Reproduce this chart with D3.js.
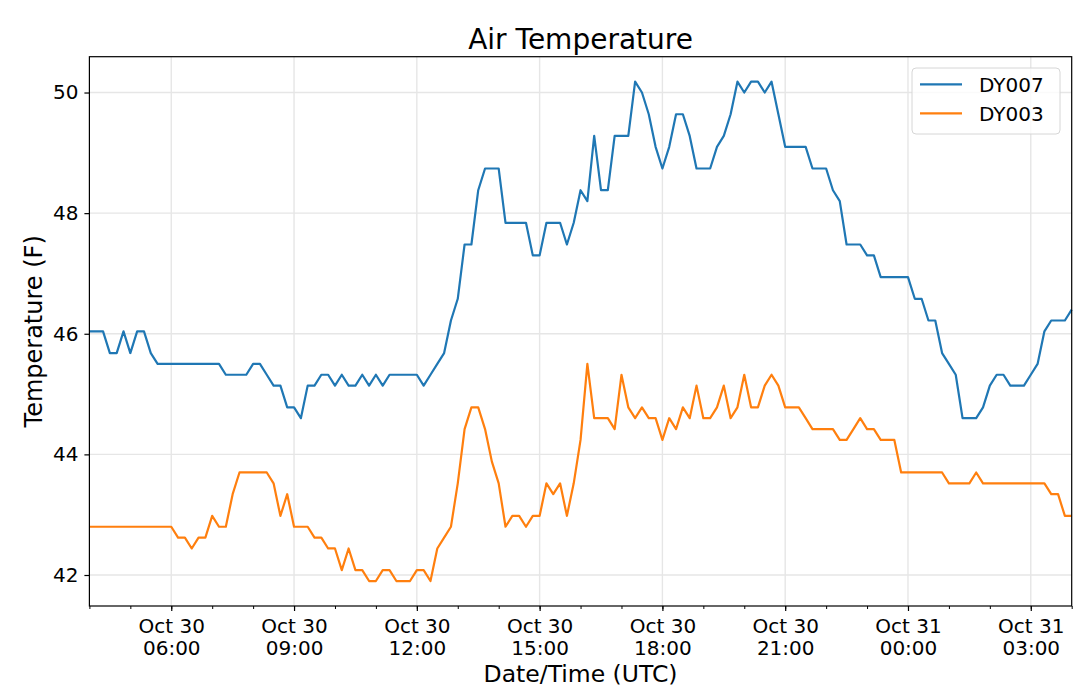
<!DOCTYPE html>
<html>
<head>
<meta charset="utf-8">
<script src="https://cdnjs.cloudflare.com/ajax/libs/d3/7.8.5/d3.min.js"></script>
<style>
  html, body { margin: 0; padding: 0; background: #fff; overflow: hidden; }
  svg { display: block; }
  text { font-family: "DejaVu Sans", sans-serif; fill: #000; }
</style>
</head>
<body>
<svg></svg>
<script>
// readings every 10 minutes, Oct 30 04:00 UTC -> Oct 31 04:00 UTC
const startTime = '2019-10-30T04:00:00Z'
const stepMinutes = 10

const seriesNames = ['DY007', 'DY003']
const seriesColors = ['#1f77b4', '#ff7f0e']

const dy007 = [
  46.04, 46.04, 46.04, 45.68, 45.68, 46.04, 45.68, 46.04, 46.04, 45.68,
  45.5, 45.5, 45.5, 45.5, 45.5, 45.5, 45.5, 45.5, 45.5, 45.5,
  45.32, 45.32, 45.32, 45.32, 45.5, 45.5, 45.32, 45.14, 45.14, 44.78,
  44.78, 44.6, 45.14, 45.14, 45.32, 45.32, 45.14, 45.32, 45.14, 45.14,
  45.32, 45.14, 45.32, 45.14, 45.32, 45.32, 45.32, 45.32, 45.32, 45.14,
  45.32, 45.5, 45.68, 46.22, 46.58, 47.48, 47.48, 48.38, 48.74, 48.74,
  48.74, 47.84, 47.84, 47.84, 47.84, 47.3, 47.3, 47.84, 47.84, 47.84,
  47.48, 47.84, 48.38, 48.2, 49.28, 48.38, 48.38, 49.28, 49.28, 49.28,
  50.18, 50.0, 49.64, 49.1, 48.74, 49.1, 49.64, 49.64, 49.28, 48.74,
  48.74, 48.74, 49.1, 49.28, 49.64, 50.18, 50.0, 50.18, 50.18, 50.0,
  50.18, 49.64, 49.1, 49.1, 49.1, 49.1, 48.74, 48.74, 48.74, 48.38,
  48.2, 47.48, 47.48, 47.48, 47.3, 47.3, 46.94, 46.94, 46.94, 46.94,
  46.94, 46.58, 46.58, 46.22, 46.22, 45.68, 45.5, 45.32, 44.6, 44.6,
  44.6, 44.78, 45.14, 45.32, 45.32, 45.14, 45.14, 45.14, 45.32, 45.5,
  46.04, 46.22, 46.22, 46.22, 46.4
]

const dy003 = [
  42.8, 42.8, 42.8, 42.8, 42.8, 42.8, 42.8, 42.8, 42.8, 42.8,
  42.8, 42.8, 42.8, 42.62, 42.62, 42.44, 42.62, 42.62, 42.98, 42.8,
  42.8, 43.34, 43.7, 43.7, 43.7, 43.7, 43.7, 43.52, 42.98, 43.34,
  42.8, 42.8, 42.8, 42.62, 42.62, 42.44, 42.44, 42.08, 42.44, 42.08,
  42.08, 41.9, 41.9, 42.08, 42.08, 41.9, 41.9, 41.9, 42.08, 42.08,
  41.9, 42.44, 42.62, 42.8, 43.52, 44.42, 44.78, 44.78, 44.42, 43.88,
  43.52, 42.8, 42.98, 42.98, 42.8, 42.98, 42.98, 43.52, 43.34, 43.52,
  42.98, 43.52, 44.24, 45.5, 44.6, 44.6, 44.6, 44.42, 45.32, 44.78,
  44.6, 44.78, 44.6, 44.6, 44.24, 44.6, 44.42, 44.78, 44.6, 45.14,
  44.6, 44.6, 44.78, 45.14, 44.6, 44.78, 45.32, 44.78, 44.78, 45.14,
  45.32, 45.14, 44.78, 44.78, 44.78, 44.6, 44.42, 44.42, 44.42, 44.42,
  44.24, 44.24, 44.42, 44.6, 44.42, 44.42, 44.24, 44.24, 44.24, 43.7,
  43.7, 43.7, 43.7, 43.7, 43.7, 43.7, 43.52, 43.52, 43.52, 43.52,
  43.7, 43.52, 43.52, 43.52, 43.52, 43.52, 43.52, 43.52, 43.52, 43.52,
  43.52, 43.34, 43.34, 42.98, 42.98
]

const yTicks = [42, 44, 46, 48, 50]
const xTicks = [
  '2019-10-30T06:00:00Z', '2019-10-30T09:00:00Z', '2019-10-30T12:00:00Z',
  '2019-10-30T15:00:00Z', '2019-10-30T18:00:00Z', '2019-10-30T21:00:00Z',
  '2019-10-31T00:00:00Z', '2019-10-31T03:00:00Z'
]

const width = 1080
const height = 700
const margin = { top: 56.7, right: 8.3, bottom: 94, left: 89.4 }
const innerWidth = width - margin.left - margin.right
const innerHeight = height - margin.top - margin.bottom

const svg = d3.select('svg').attr('width', width).attr('height', height)

const start = new Date(startTime)
const times = dy007.map((d, i) => d3.utcMinute.offset(start, i * stepMinutes))
const series = [dy007, dy003].map((vals, k) => ({
  name: seriesNames[k],
  color: seriesColors[k],
  values: vals.map((v, i) => ({ t: times[i], v: v }))
}))

const xScale = d3.scaleUtc()
  .domain(d3.extent(times))
  .range([0, innerWidth])

// matplotlib style 5% padding
const allVals = dy007.concat(dy003)
const [vMin, vMax] = d3.extent(allVals)
const pad = (vMax - vMin) * 0.05
const yScale = d3.scaleLinear()
  .domain([vMin - pad, vMax + pad])
  .range([innerHeight, 0])

const g = svg.append('g')
  .attr('transform', `translate(${margin.left},${margin.top})`)

const majorDates = xTicks.map(s => new Date(s))

// grid
g.append('g').selectAll('line')
  .data(yTicks)
  .enter().append('line')
    .attr('x1', 0).attr('x2', innerWidth)
    .attr('y1', d => yScale(d)).attr('y2', d => yScale(d))
    .attr('stroke', '#e6e6e6').attr('stroke-width', 1.4)
g.append('g').selectAll('line')
  .data(majorDates)
  .enter().append('line')
    .attr('x1', d => xScale(d)).attr('x2', d => xScale(d))
    .attr('y1', 0).attr('y2', innerHeight)
    .attr('stroke', '#e6e6e6').attr('stroke-width', 1.4)

// lines
const line = d3.line()
  .x(d => xScale(d.t))
  .y(d => yScale(d.v))

g.selectAll('path.series')
  .data(series)
  .enter().append('path')
    .attr('class', 'series')
    .attr('d', d => line(d.values))
    .attr('fill', 'none')
    .attr('stroke', d => d.color)
    .attr('stroke-width', 2.2)
    .attr('stroke-linejoin', 'round')

// minor x ticks every hour
const minorAxis = d3.axisBottom(xScale)
  .ticks(d3.utcHour.every(1))
  .tickSize(3)
  .tickFormat('')
const minorG = g.append('g')
  .attr('transform', `translate(0,${innerHeight})`)
  .call(minorAxis)
minorG.select('.domain').remove()
minorG.selectAll('text').remove()
minorG.selectAll('line').attr('stroke', '#000').attr('stroke-width', 1)

// major x ticks
const fmtDay = d3.utcFormat('%b %d')
const fmtTime = d3.utcFormat('%H:%M')
const xAxis = d3.axisBottom(xScale)
  .tickValues(majorDates)
  .tickSize(5)
  .tickFormat('')
const xAxisG = g.append('g')
  .attr('transform', `translate(0,${innerHeight})`)
  .call(xAxis)
xAxisG.select('.domain').remove()
xAxisG.selectAll('line').attr('stroke', '#000').attr('stroke-width', 1.2)
xAxisG.selectAll('.tick text').remove()
const ticks = xAxisG.selectAll('.tick')
ticks.append('text')
  .attr('text-anchor', 'middle')
  .attr('y', 26.7)
  .style('font-size', '20px')
  .text(d => fmtDay(d))
ticks.append('text')
  .attr('text-anchor', 'middle')
  .attr('y', 49)
  .style('font-size', '20px')
  .text(d => fmtTime(d))

// y axis
const yAxis = d3.axisLeft(yScale)
  .tickValues(yTicks)
  .tickSize(5)
  .tickPadding(6)
  .tickFormat(d3.format('d'))
const yAxisG = g.append('g').call(yAxis)
yAxisG.select('.domain').remove()
yAxisG.selectAll('line').attr('stroke', '#000').attr('stroke-width', 1.2)
yAxisG.selectAll('text')
  .attr('fill', '#000')
  .style('font-size', '20px')
  .style('font-family', '"DejaVu Sans", sans-serif')

// frame
g.append('rect')
  .attr('width', innerWidth)
  .attr('height', innerHeight)
  .attr('fill', 'none')
  .attr('stroke', '#000')
  .attr('stroke-width', 1.2)

// titles
svg.append('text')
  .attr('x', margin.left + innerWidth / 2)
  .attr('y', 49)
  .attr('text-anchor', 'middle')
  .style('font-size', '28px')
  .text('Air Temperature')

svg.append('text')
  .attr('x', margin.left + innerWidth / 2)
  .attr('y', 682)
  .attr('text-anchor', 'middle')
  .style('font-size', '23.5px')
  .text('Date/Time (UTC)')

svg.append('text')
  .attr('transform', `translate(42,${margin.top + innerHeight / 2}) rotate(-90)`)
  .attr('text-anchor', 'middle')
  .style('font-size', '24px')
  .text('Temperature (F)')

// legend
const legend = svg.append('g').attr('transform', 'translate(912,68)')
legend.append('rect')
  .attr('width', 148).attr('height', 66)
  .attr('rx', 4)
  .attr('fill', '#fff').attr('fill-opacity', 0.8)
  .attr('stroke', '#d6d6d6')
const items = legend.selectAll('g.item')
  .data(series)
  .enter().append('g')
    .attr('transform', (d, i) => `translate(0,${16.3 + i * 29})`)
items.append('line')
  .attr('x1', 8).attr('x2', 50)
  .attr('stroke', d => d.color)
  .attr('stroke-width', 2.2)
items.append('text')
  .attr('x', 67)
  .attr('dy', '0.36em')
  .style('font-size', '20px')
  .text(d => d.name)
</script>
</body>
</html>
